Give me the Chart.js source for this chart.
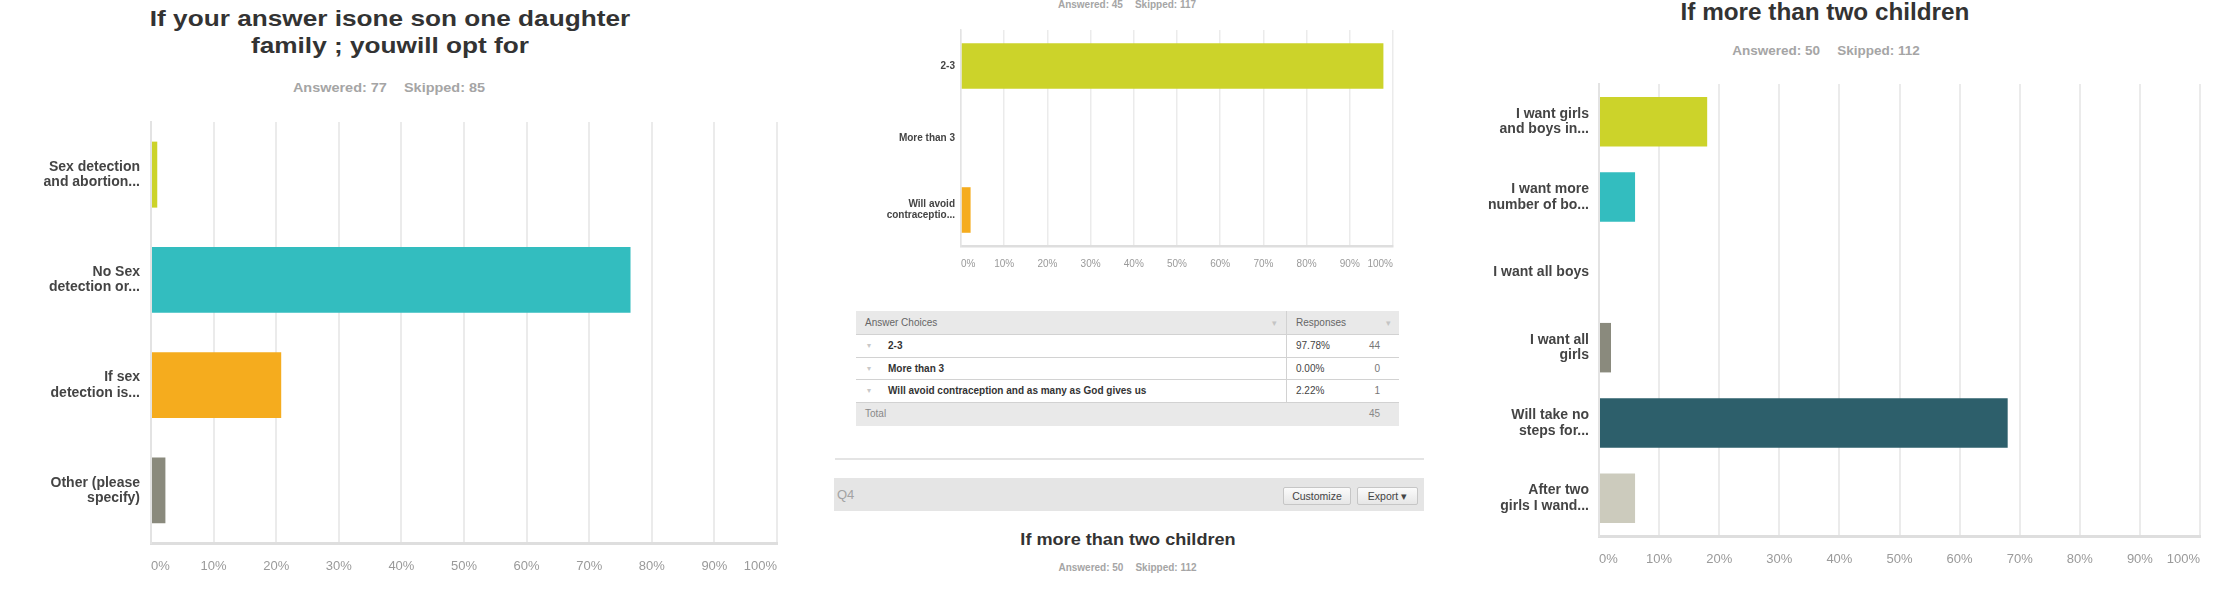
<!DOCTYPE html>
<html><head><meta charset="utf-8">
<script src="https://cdn.jsdelivr.net/npm/chart.js@4.4.1/dist/chart.umd.min.js"></script>
<style>
html,body{margin:0;padding:0;background:#fff;width:2214px;height:614px;overflow:hidden;font-family:"Liberation Sans",Arial,sans-serif;}
canvas{position:absolute;}
.t{position:absolute;white-space:nowrap;text-align:center;transform-origin:50% 50%;}
.title{font-weight:bold;color:#333;}
.sub{font-weight:bold;color:#a5a5a5;}
.sub span{display:inline-block;}
.cell{position:absolute;white-space:nowrap;font-size:10px;}
.btn{position:absolute;box-sizing:border-box;border:1px solid #c6c6c6;border-radius:2px;background:linear-gradient(#fbfbfb,#e6e6e6);font-size:10.5px;color:#444;text-align:center;line-height:16px;}
</style></head>
<body>
<div id="root"></div>
<canvas id="c1" width="800" height="614" style="left:0;top:0"></canvas>
<canvas id="c2" width="600" height="300" style="left:830px;top:0"></canvas>
<canvas id="c3" width="774" height="614" style="left:1440px;top:0"></canvas>
<script>
// ---------- data ----------
const q1Title = ["If your answer isone son one daughter", "family ; youwill opt for"];
const q1Answered = 77, q1Skipped = 85;
const q1Categories = [["Sex detection","and abortion..."],["No Sex","detection or..."],["If sex","detection is..."],["Other (please","specify)"]];
const q1Values = [1.0, 76.6, 20.8, 2.3];

const q2Answered = 45, q2Skipped = 117;
const q2Categories = ["2-3","More than 3",["Will avoid","contraceptio..."]];
const q2Values = [97.78, 0, 2.22];
const q2Choices = ["2-3","More than 3","Will avoid contraception and as many as God gives us"];
const q2Percents = ["97.78%","0.00%","2.22%"];
const q2Counts = [44, 0, 1];
const q2Total = 45;

const q3Title = "If more than two children";
const q3Answered = 50, q3Skipped = 112;
const q3Categories = [["I want girls","and boys in..."],["I want more","number of bo..."],"I want all boys",["I want all","girls"],["Will take no","steps for..."],["After two","girls I wand..."]];
const q3Values = [18, 6, 0, 2, 68, 6];

const xTicks = [0,10,20,30,40,50,60,70,80,90,100];
const palette = ['#ccd32a','#33bdbf','#f5ac1e','#8a8a7d','#2d5f6b','#cccbbd'];

// ---------- html text ----------
const root = document.getElementById('root');
function addDiv(cls, html, style){
  const d = document.createElement('div'); d.className = cls; d.innerHTML = html;
  Object.assign(d.style, style); root.appendChild(d); return d;
}
function subHtml(a,s,gap){ return '<span>Answered: '+a+'</span><span style="margin-left:'+gap+'px">Skipped: '+s+'</span>'; }

// panel 1
addDiv('t title', q1Title.join('<br>'), {left:'-10.5px', width:'800px', top:'4.6px', fontSize:'22.4px', lineHeight:'27.3px', transform:'scaleX(1.17)'});
addDiv('t sub', subHtml(q1Answered,q1Skipped,16), {left:'-11.5px', width:'800px', top:'79.6px', fontSize:'13.5px', lineHeight:'16px', transform:'scaleX(1.07)'});
// panel 2
addDiv('t sub', subHtml(q2Answered,q2Skipped,12), {left:'827px', width:'600px', top:'-1.2px', fontSize:'10px', lineHeight:'12px'});
// panel 3
addDiv('t title', q3Title, {left:'1425px', width:'800px', top:'-1.7px', fontSize:'24.3px', lineHeight:'28px'});
addDiv('t sub', subHtml(q3Answered,q3Skipped,17), {left:'1426px', width:'800px', top:'43.3px', fontSize:'13.5px', lineHeight:'16px'});

// table (panel 2)
const tL = 856, tT = 311, tW = 543, colX = 1286, hH = 24, rH = 22.7;
addDiv('cell', '', {left:tL+'px', top:tT+'px', width:tW+'px', height:hH+'px', background:'#e9e9e9'});
addDiv('cell', 'Answer Choices', {left:(tL+9)+'px', top:tT+'px', lineHeight:hH+'px', color:'#666'});
addDiv('cell', 'Responses', {left:(colX+10)+'px', top:tT+'px', lineHeight:hH+'px', color:'#666'});
addDiv('cell', '&#9662;', {left:(colX-14)+'px', top:tT+'px', lineHeight:hH+'px', color:'#c4c4c4', fontSize:'9px'});
addDiv('cell', '&#9662;', {left:(tL+tW-13)+'px', top:tT+'px', lineHeight:hH+'px', color:'#c4c4c4', fontSize:'9px'});
for (let i=0;i<q2Choices.length;i++){
  const y = tT + hH + i*rH;
  addDiv('cell', '', {left:tL+'px', top:(y+rH-1)+'px', width:tW+'px', height:'1px', background:'#d2d2d2'});
  addDiv('cell', '&#9662;', {left:(tL+11)+'px', top:y+'px', lineHeight:rH+'px', color:'#c8c8c8', fontSize:'8px'});
  addDiv('cell', q2Choices[i], {left:(tL+32)+'px', top:y+'px', lineHeight:rH+'px', color:'#333', fontWeight:'bold'});
  addDiv('cell', q2Percents[i], {left:(colX+10)+'px', top:y+'px', lineHeight:rH+'px', color:'#444'});
  addDiv('cell', String(q2Counts[i]), {left:(tL+tW-64)+'px', width:'45px', textAlign:'right', top:y+'px', lineHeight:rH+'px', color:'#777'});
}
addDiv('cell', '', {left:tL+'px', top:(tT+hH-1)+'px', width:tW+'px', height:'1px', background:'#d2d2d2'});
addDiv('cell', '', {left:colX+'px', top:tT+'px', width:'1px', height:(hH+3*rH)+'px', background:'#d2d2d2'});
const totY = tT + hH + 3*rH;
addDiv('cell', '', {left:tL+'px', top:totY+'px', width:tW+'px', height:rH+'px', background:'#e9e9e9'});
addDiv('cell', 'Total', {left:(tL+9)+'px', top:totY+'px', lineHeight:rH+'px', color:'#888'});
addDiv('cell', String(q2Total), {left:(tL+tW-64)+'px', width:'45px', textAlign:'right', top:totY+'px', lineHeight:rH+'px', color:'#888'});

// separator and Q4 bar
addDiv('cell', '', {left:'835px', top:'458px', width:'589px', height:'2px', background:'#e4e4e4'});
addDiv('cell', '', {left:'834px', top:'478px', width:'590px', height:'33px', background:'#e5e5e5'});
addDiv('cell', 'Q4', {left:'837px', top:'478px', lineHeight:'33px', fontSize:'13px', color:'#a3a3a3'});
addDiv('btn', 'Customize', {left:'1283px', top:'487px', width:'68px', height:'18px'});
addDiv('btn', 'Export &#9662;', {left:'1357px', top:'487px', width:'61px', height:'18px'});
addDiv('t title', q3Title, {left:'827.5px', width:'600px', top:'530.1px', fontSize:'17px', lineHeight:'20px', transform:'scaleX(1.065)'});
addDiv('t sub', subHtml(q3Answered,q3Skipped,12), {left:'827.5px', width:'600px', top:'562.2px', fontSize:'10px', lineHeight:'12px'});

// ---------- charts ----------
function makeChart(id, labels, values, colors, o){
  return new Chart(document.getElementById(id), {
    type:'bar',
    data:{labels:labels, datasets:[{data:values, backgroundColor:colors, borderWidth:0,
      categoryPercentage:1, barPercentage:o.barPct}]},
    options:{
      indexAxis:'y', responsive:false, animation:false, devicePixelRatio:1,
      layout:{padding:{left:0, right:o.padR, top:o.padT, bottom:o.padB}},
      plugins:{legend:{display:false}, tooltip:{enabled:false}},
      scales:{
        x:{min:0, max:100, afterBuildTicks:(s)=>{ s.ticks = xTicks.map(v=>({value:v})); },
          afterFit:(s)=>{ s.height = o.xH; s.paddingLeft = 0; s.paddingRight = 0; },
          grid:{color:'#ebebeb', lineWidth:o.gridW, drawTicks:false},
          border:{display:true, color:'#dedede', width:o.gridW+1},
          ticks:{callback:(v)=>v+'%', color:'#9a9a9a', padding:o.xPad, align:'inner', maxRotation:0, autoSkip:false,
            font:{family:'"Liberation Sans", Arial, sans-serif', size:o.xFont}}},
        y:{afterFit:(s)=>{ s.width = o.yW; s.paddingTop = 0; s.paddingBottom = 0; },
          grid:{display:false, drawTicks:false},
          border:{display:true, color:'#e3e3e3', width:o.gridW},
          ticks:{color:'#444', padding:o.yPad, autoSkip:false,
            font:{family:'"Liberation Sans", Arial, sans-serif', size:o.yFont, weight:'bold', lineHeight:1.1}}}
      }
    }
  });
}
makeChart('c1', q1Categories, q1Values, palette.slice(0,4),
  {barPct:0.627, padR:23, padT:122, padB:31, xH:40, yW:151, xPad:15.5, yPad:11, xFont:13, yFont:14, gridW:2});
makeChart('c2', q2Categories, q2Values, [palette[0],palette[1],palette[2]],
  {barPct:0.633, padR:37, padT:30, padB:24, xH:30, yW:131, xPad:12, yPad:6, xFont:10, yFont:10, gridW:1.5});
makeChart('c3', q3Categories, q3Values, [palette[0],palette[1],palette[2],palette[3],palette[4],palette[5]],
  {barPct:0.657, padR:14, padT:84, padB:38, xH:40, yW:159, xPad:15.5, yPad:10, xFont:13, yFont:14, gridW:2});
</script>
</body></html>
